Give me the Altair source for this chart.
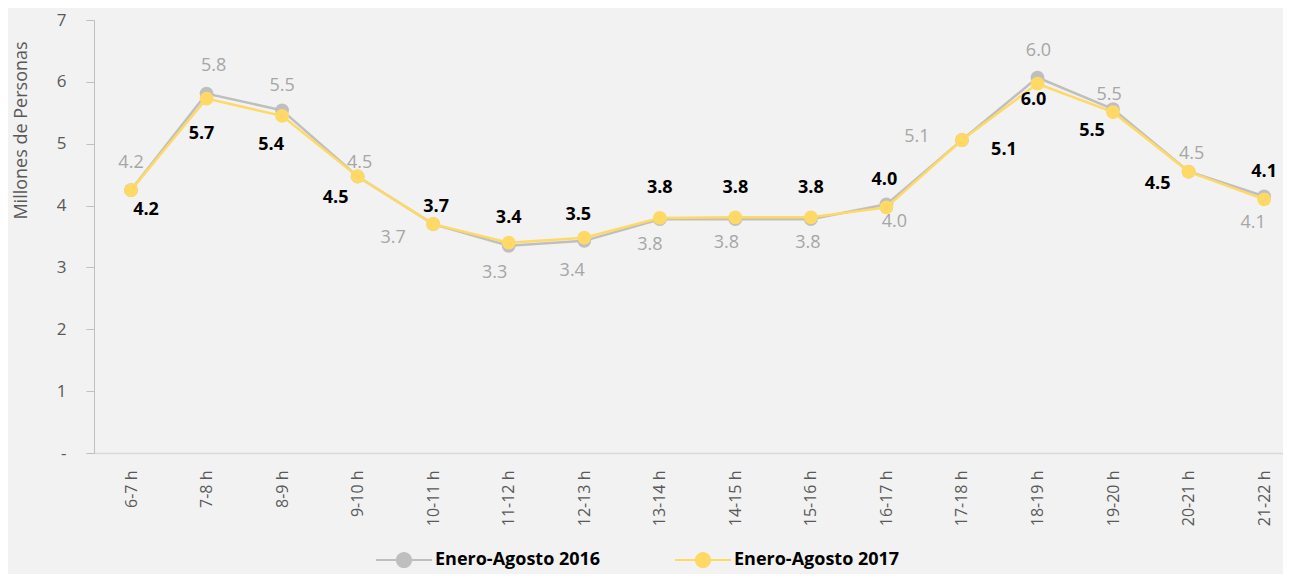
import json
import altair as alt
import pandas as pd

# ---------------- data ----------------
hours = ["6-7 h", "7-8 h", "8-9 h", "9-10 h", "10-11 h", "11-12 h", "12-13 h", "13-14 h",
         "14-15 h", "15-16 h", "16-17 h", "17-18 h", "18-19 h", "19-20 h", "20-21 h", "21-22 h"]
series = ["Enero-Agosto 2016", "Enero-Agosto 2017"]
v2016 = [4.25, 5.81, 5.54, 4.47, 3.70, 3.35, 3.43, 3.78, 3.78, 3.78, 4.02, 5.06, 6.07, 5.56, 4.55, 4.15]
v2017 = [4.25, 5.73, 5.45, 4.47, 3.70, 3.40, 3.48, 3.80, 3.81, 3.81, 3.97, 5.06, 5.97, 5.51, 4.55, 4.10]
lab2016 = ["4.2", "5.8", "5.5", "4.5", "3.7", "3.3", "3.4", "3.8", "3.8", "3.8", "4.0", "5.1", "6.0", "5.5", "4.5", "4.1"]
lab2017 = ["4.2", "5.7", "5.4", "4.5", "3.7", "3.4", "3.5", "3.8", "3.8", "3.8", "4.0", "5.1", "6.0", "5.5", "4.5", "4.1"]

# label placement (pixel offsets of each data label from its point)
dx2016 = [0, 7, 0, 2, -40, -14, -12, -10, -9, -3, 8, -45, 1, -4, 3, -11]
dy2016 = [-27, -28, -24, -13, 14, 27, 30, 26, 24, 24, 18, -3, -27, -14, -18, 27]
dx2017 = [15, -5, -11, -22, 3, 0, -6, 0, 0, 0, -2, 42, -4, -21, -31, 0]
dy2017 = [20, 35, 29, 22, -17, -25, -23, -30, -29, -29, -27, 10, 16, 19, 12, -27]

rows = []
for s, vals, labs, dxs, dys in [(series[0], v2016, lab2016, dx2016, dy2016),
                                (series[1], v2017, lab2017, dx2017, dy2017)]:
    for i, h in enumerate(hours):
        rows.append({"idx": i, "hour": h, "series": s, "value": vals[i],
                     "label": labs[i], "dx": dxs[i], "dy": dys[i]})
df = pd.DataFrame(rows)

# ---------------- layout ----------------
TOP = 12
W, H = 1189, 433
X0, X1 = -0.49, 15.25
PX_X = W / (X1 - X0)
PX_Y = H / 7.0
FONT = "Open Sans"
GREY_TXT = "#595959"

color_scale = alt.Scale(domain=series, range=["#bfbfbf", "#ffd966"])

x_enc = alt.X(
    "idx:Q",
    scale=alt.Scale(domain=[X0, X1], nice=False, zero=False),
    axis=alt.Axis(
        values=list(range(len(hours))),
        labelExpr=f"{json.dumps(hours)}[datum.value]",
        labelAngle=-90, labelFont=FONT, labelFontSize=16, labelColor=GREY_TXT,
        labelPadding=17, ticks=False, grid=False, domainColor="#d9d9d9", domainWidth=1.5,
        title=None, labelOverlap=False,
    ),
)
y_enc = alt.Y(
    "value:Q",
    scale=alt.Scale(domain=[0, 7], nice=False),
    axis=alt.Axis(
        values=list(range(8)),
        labelExpr="datum.value == 0 ? '-' : datum.label",
        labelFont=FONT, labelFontSize=17, labelColor=GREY_TXT, labelPadding=20,
        tickSize=8, tickColor="#bfbfbf", domainColor="#bfbfbf", grid=False,
        title="Millones de Personas", titleFont=FONT, titleFontSize=18,
        titleColor=GREY_TXT, titleFontWeight="normal", titlePadding=26,
        titleY=130 - (8 + TOP),
    ),
)

# legend symbol: short line with a dot in the middle
SYM = ("M-1,-0.035H-0.28V0.035H-1Z M0.28,-0.035H1V0.035H0.28Z "
       "M-0.29,0A0.29,0.29,0,1,1,0.29,0A0.29,0.29,0,1,1,-0.29,0Z")

color_enc = alt.Color(
    "series:N", scale=color_scale,
    legend=alt.Legend(
        title=None, orient="none", direction="horizontal", legendX=282,
        legendY=560 - 28 - (8 + TOP),
        symbolType=SYM, symbolSize=3136, symbolStrokeWidth=0, symbolOpacity=1,
        labelFont=FONT, labelFontSize=18, labelFontWeight="bold", labelColor="#000000",
        labelOffset=3, columnPadding=74, labelLimit=300,
    ),
)

base = alt.Chart(df)
layers = []
for k, s in enumerate(series):
    sub = base.transform_filter(alt.datum.series == s)
    layers.append(sub.mark_line(strokeWidth=2.5).encode(x=x_enc, y=y_enc, color=color_enc))
    layers.append(sub.mark_circle(size=190, opacity=1).encode(x=x_enc, y=y_enc, color=color_enc))

for k, s in enumerate(series):
    sub = base.transform_filter(alt.datum.series == s).transform_calculate(
        idx=f"datum.idx + datum.dx / {PX_X}",
        value=f"datum.value - datum.dy / {PX_Y}",
    )
    if k == 0:
        mk = sub.mark_text(font=FONT, fontSize=18, color="#a6a6a6", align="center", baseline="middle")
    else:
        mk = sub.mark_text(font=FONT, fontSize=18, fontWeight="bold", color="#000000",
                           align="center", baseline="middle")
    layers.append(mk.encode(x=x_enc, y=y_enc, text="label:N"))

chart = alt.layer(*layers).properties(
    width=W, height=H,
    autosize=alt.AutoSizeParams(type="none"),
    padding={"left": 86, "top": TOP, "right": 0, "bottom": 566 - TOP - H},
).configure(background="#f2f2f2").configure_view(stroke=None)

chart.save("out.html", embed_options={"renderer": "svg", "actions": False})
